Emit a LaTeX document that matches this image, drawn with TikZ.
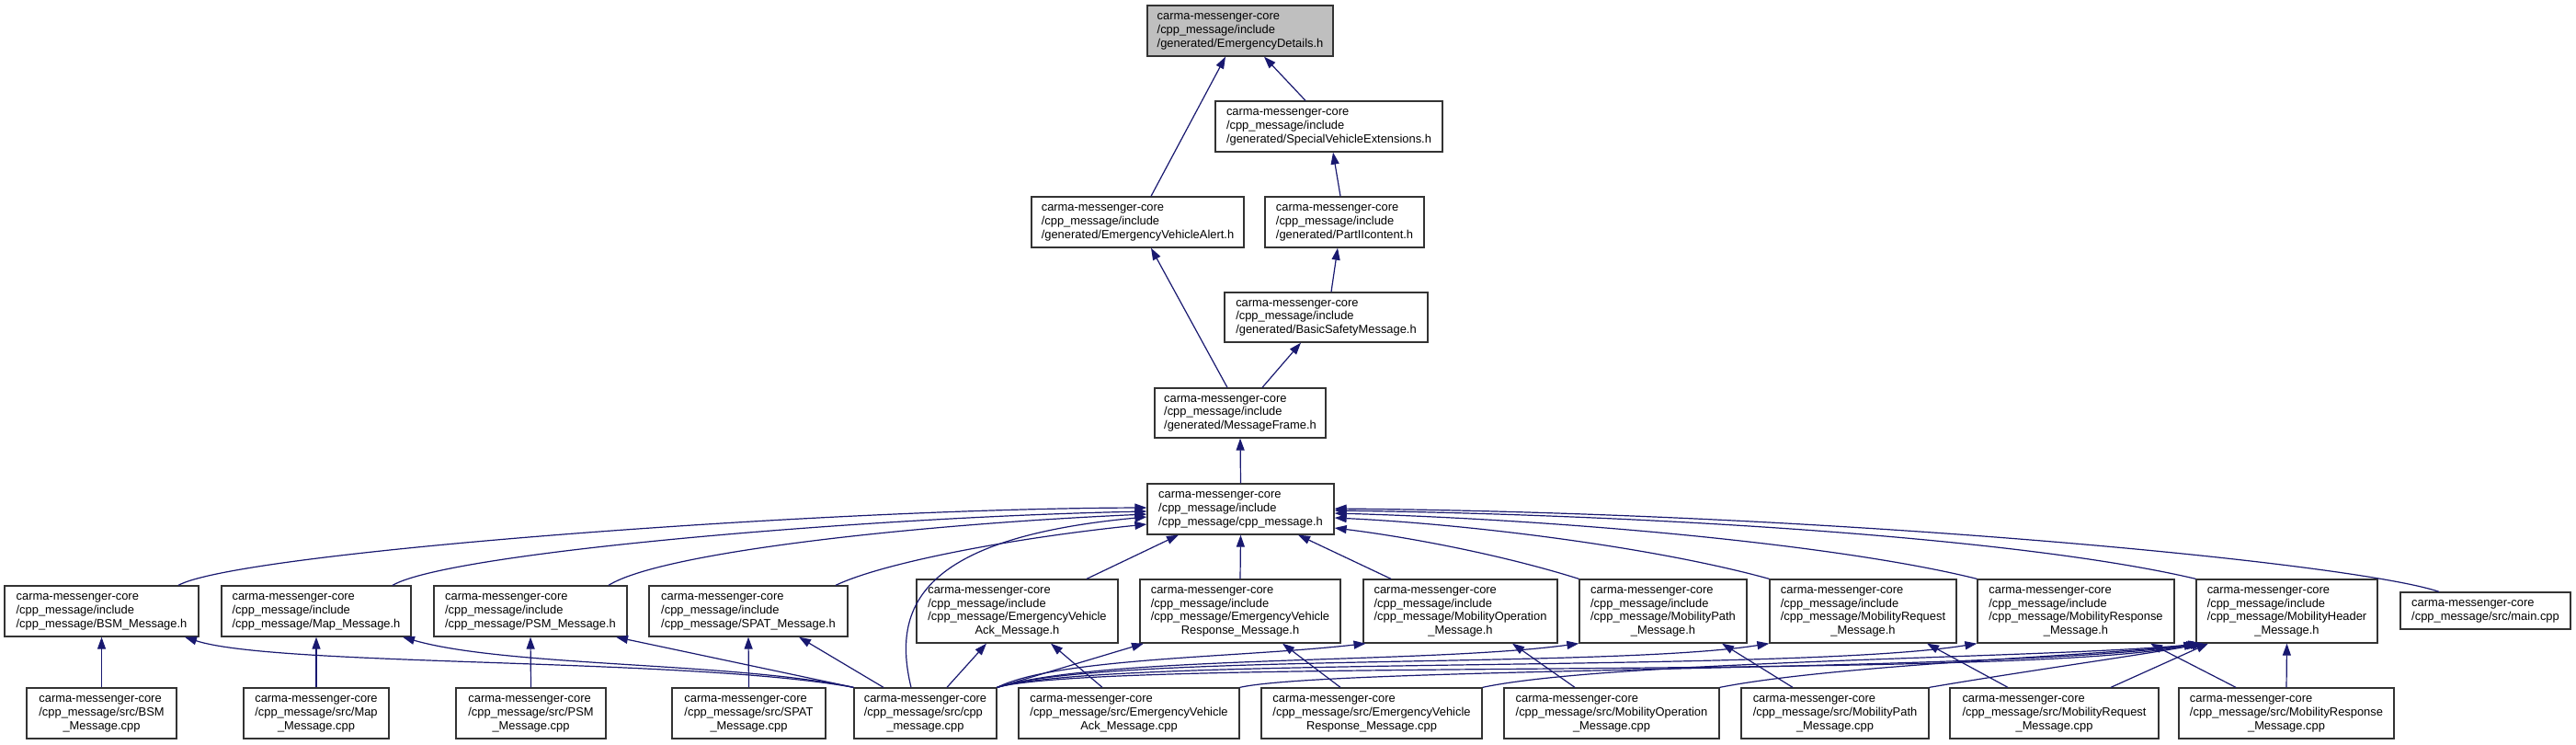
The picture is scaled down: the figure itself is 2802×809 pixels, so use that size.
\documentclass[tikz,border=0pt]{standalone}
\usepackage{fontspec}
\setmainfont{Liberation Sans}
\usetikzlibrary{arrows.meta}
\definecolor{edgeblue}{RGB}{25,25,112}
\definecolor{rootgray}{gray}{0.75}
\newcommand{\lb}[2]{\begin{tabular}{@{}l@{}}#1\\\multicolumn{1}{@{}c@{}}{#2}\end{tabular}}
\newcommand{\nodefnt}{\fontsize{12.9pt}{14.6pt}\selectfont}
\tikzset{
  box/.style={draw=black!80, line width=1.3pt, fill=white, inner sep=0pt, rectangle, font=\nodefnt},
  edge/.style={draw=edgeblue, line width=1.2pt, -{Triangle[length=13pt,width=9pt]}},
}
\begin{document}
\begin{tikzpicture}[x=1pt,y=-1pt]
\path[use as bounding box, fill=white] (0,0) rectangle (2802,809);
% top chain
\node[box, fill=rootgray, minimum width=202pt, minimum height=55pt] (ed) at (1349,33.5) {\lb{carma-messenger-core\\/cpp\_message/include}{/generated/EmergencyDetails.h}};
\node[box, minimum width=247pt, minimum height=55pt] (sve) at (1445.5,137.5) {\lb{carma-messenger-core\\/cpp\_message/include}{/generated/SpecialVehicleExtensions.h}};
\node[box, minimum width=231pt, minimum height=55pt] (eva) at (1237.5,241.5) {\lb{carma-messenger-core\\/cpp\_message/include}{/generated/EmergencyVehicleAlert.h}};
\node[box, minimum width=173pt, minimum height=55pt] (p2) at (1462.5,241.5) {\lb{carma-messenger-core\\/cpp\_message/include}{/generated/PartIIcontent.h}};
\node[box, minimum width=221pt, minimum height=54pt] (bsm) at (1442.5,345) {\lb{carma-messenger-core\\/cpp\_message/include}{/generated/BasicSafetyMessage.h}};
\node[box, minimum width=186pt, minimum height=54pt] (mf) at (1349,449) {\lb{carma-messenger-core\\/cpp\_message/include}{/generated/MessageFrame.h}};
\node[box, minimum width=203pt, minimum height=55pt] (cpph) at (1349.5,553.5) {\lb{carma-messenger-core\\/cpp\_message/include}{/cpp\_message/cpp\_message.h}};
% row 3
\node[box, minimum width=211pt, minimum height=55pt] (bsmh) at (110.5,664.5) {\lb{carma-messenger-core\\/cpp\_message/include}{/cpp\_message/BSM\_Message.h}};
\node[box, minimum width=206pt, minimum height=55pt] (maph) at (344,664.5) {\lb{carma-messenger-core\\/cpp\_message/include}{/cpp\_message/Map\_Message.h}};
\node[box, minimum width=210pt, minimum height=55pt] (psmh) at (577,664.5) {\lb{carma-messenger-core\\/cpp\_message/include}{/cpp\_message/PSM\_Message.h}};
\node[box, minimum width=216pt, minimum height=55pt] (spath) at (814,664.5) {\lb{carma-messenger-core\\/cpp\_message/include}{/cpp\_message/SPAT\_Message.h}};
\node[box, minimum width=219pt, minimum height=69pt] (evackh) at (1106.5,664.5) {\lb{carma-messenger-core\\/cpp\_message/include\\/cpp\_message/EmergencyVehicle}{Ack\_Message.h}};
\node[box, minimum width=218pt, minimum height=69pt] (evresph) at (1349,664.5) {\lb{carma-messenger-core\\/cpp\_message/include\\/cpp\_message/EmergencyVehicle}{Response\_Message.h}};
\node[box, minimum width=211pt, minimum height=69pt] (moph) at (1588.5,664.5) {\lb{carma-messenger-core\\/cpp\_message/include\\/cpp\_message/MobilityOperation}{\_Message.h}};
\node[box, minimum width=182pt, minimum height=69pt] (mpathh) at (1809,664.5) {\lb{carma-messenger-core\\/cpp\_message/include\\/cpp\_message/MobilityPath}{\_Message.h}};
\node[box, minimum width=203pt, minimum height=69pt] (mreqh) at (2026.5,664.5) {\lb{carma-messenger-core\\/cpp\_message/include\\/cpp\_message/MobilityRequest}{\_Message.h}};
\node[box, minimum width=214pt, minimum height=69pt] (mresph) at (2258,664.5) {\lb{carma-messenger-core\\/cpp\_message/include\\/cpp\_message/MobilityResponse}{\_Message.h}};
\node[box, minimum width=197pt, minimum height=69pt] (mheadh) at (2487.5,664.5) {\lb{carma-messenger-core\\/cpp\_message/include\\/cpp\_message/MobilityHeader}{\_Message.h}};
\node[box, minimum width=185pt, minimum height=40pt] (maincpp) at (2703.5,664) {\lb{carma-messenger-core}{/cpp\_message/src/main.cpp}};
% row 4
\node[box, minimum width=163pt, minimum height=55pt] (bsmcpp) at (110.5,775.5) {\lb{carma-messenger-core\\/cpp\_message/src/BSM}{\_Message.cpp}};
\node[box, minimum width=158pt, minimum height=55pt] (mapcpp) at (344,775.5) {\lb{carma-messenger-core\\/cpp\_message/src/Map}{\_Message.cpp}};
\node[box, minimum width=163pt, minimum height=55pt] (psmcpp) at (577.5,775.5) {\lb{carma-messenger-core\\/cpp\_message/src/PSM}{\_Message.cpp}};
\node[box, minimum width=167pt, minimum height=55pt] (spatcpp) at (814.5,775.5) {\lb{carma-messenger-core\\/cpp\_message/src/SPAT}{\_Message.cpp}};
\node[box, minimum width=155pt, minimum height=55pt] (cppcpp) at (1006.5,775.5) {\lb{carma-messenger-core\\/cpp\_message/src/cpp}{\_message.cpp}};
\node[box, minimum width=240pt, minimum height=55pt] (evackcpp) at (1228,775.5) {\lb{carma-messenger-core\\/cpp\_message/src/EmergencyVehicle}{Ack\_Message.cpp}};
\node[box, minimum width=240pt, minimum height=55pt] (evrespcpp) at (1492,775.5) {\lb{carma-messenger-core\\/cpp\_message/src/EmergencyVehicle}{Response\_Message.cpp}};
\node[box, minimum width=234pt, minimum height=55pt] (mopcpp) at (1753,775.5) {\lb{carma-messenger-core\\/cpp\_message/src/MobilityOperation}{\_Message.cpp}};
\node[box, minimum width=204pt, minimum height=55pt] (mpathcpp) at (1996,775.5) {\lb{carma-messenger-core\\/cpp\_message/src/MobilityPath}{\_Message.cpp}};
\node[box, minimum width=227pt, minimum height=55pt] (mreqcpp) at (2234.5,775.5) {\lb{carma-messenger-core\\/cpp\_message/src/MobilityRequest}{\_Message.cpp}};
\node[box, minimum width=234pt, minimum height=55pt] (mrespcpp) at (2487,775.5) {\lb{carma-messenger-core\\/cpp\_message/src/MobilityResponse}{\_Message.cpp}};
% top edges
\draw[edge] ([xshift=14.5pt]eva.north) -- ([xshift=-16pt]ed.south);
\draw[edge] ([xshift=-25.5pt]sve.north) -- ([xshift=26pt]ed.south);
\draw[edge] ([xshift=-4.5pt]p2.north) -- ([xshift=4.5pt]sve.south);
\draw[edge] ([xshift=5.5pt]bsm.north) -- ([xshift=-7.5pt]p2.south);
\draw[edge] ([xshift=-14pt]mf.north) -- ([xshift=14.5pt]eva.south);
\draw[edge] ([xshift=24pt]mf.north) -- ([xshift=-27.5pt]bsm.south);
\draw[edge] (cpph.north) -- (mf.south);
% row 3 to cpp_message.h
\draw[edge] ([xshift=83.5pt]bsmh.north) .. controls (260,600) and (900,553) .. ([yshift=1.5pt]cpph.west);
\draw[edge] ([xshift=83pt]maph.north) .. controls (490,600) and (950,562) .. ([yshift=-2.5pt]cpph.west);
\draw[edge] ([xshift=85pt]psmh.north) .. controls (720,600) and (1000,570) .. ([yshift=-5.5pt]cpph.west);
\draw[edge] ([xshift=95pt]spath.north) .. controls (960,612) and (1100,585) .. ([yshift=-16.5pt]cpph.west);
\draw[edge] ([xshift=-15.5pt]cppcpp.north) .. controls (970,660) and (1000,585) .. ([yshift=-8.5pt]cpph.west);
\draw[edge] ([xshift=75.5pt]evackh.north) -- ([xshift=-67.5pt]cpph.south);
\draw[edge] (evresph.north) -- (cpph.south);
\draw[edge] ([xshift=-75.5pt]moph.north) -- ([xshift=62.5pt]cpph.south);
\draw[edge] (mpathh.north west) .. controls (1640,605) and (1540,585) .. ([yshift=-20.5pt]cpph.east);
\draw[edge] (mreqh.north west) .. controls (1800,595) and (1600,570) .. ([yshift=-9.5pt]cpph.east);
\draw[edge] (mresph.north west) .. controls (2000,592) and (1700,565) .. ([yshift=-4.5pt]cpph.east);
\draw[edge] (mheadh.north west) .. controls (2200,585) and (1800,560) .. ([yshift=-1.5pt]cpph.east);
\draw[edge] ([xshift=-50.5pt]maincpp.north) .. controls (2560,612) and (2000,558) .. ([yshift=0.5pt]cpph.east);
% row 4 verticals
\draw[edge] (bsmcpp.north) -- (bsmh.south);
\draw[edge] (mapcpp.north) -- (maph.south);
\draw[edge] (psmcpp.north) -- (psmh.south);
\draw[edge] (spatcpp.north) -- (spath.south);
% cpp_message.cpp
\draw[edge] (cppcpp.north west) .. controls (750,715) and (300,725) .. ([xshift=90.5pt]bsmh.south);
\draw[edge] (cppcpp.north west) .. controls (800,720) and (550,725) .. ([xshift=94pt]maph.south);
\draw[edge] (cppcpp.north west) -- ([xshift=93pt]psmh.south);
\draw[edge] ([xshift=-45.5pt]cppcpp.north) -- ([xshift=55pt]spath.south);
\draw[edge] ([xshift=23.5pt]cppcpp.north) -- ([xshift=-33.5pt]evackh.south);
\draw[edge] (cppcpp.north east) -- ([xshift=-105pt]evresph.south);
\draw[edge] (cppcpp.north east) .. controls (1150,715) and (1350,715) .. ([xshift=-103pt]moph.south);
\draw[edge] (cppcpp.north east) .. controls (1200,712) and (1550,722) .. (mpathh.south west);
\draw[edge] (cppcpp.north east) .. controls (1200,710) and (1750,727) .. (mreqh.south west);
\draw[edge] (cppcpp.north east) .. controls (1200,713) and (1950,732) .. (mresph.south west);
\draw[edge] (cppcpp.north east) .. controls (1200,715) and (2200,740) .. (mheadh.south west);
% other cpp files
\draw[edge] ([xshift=-29pt]evackcpp.north) -- ([xshift=36.5pt]evackh.south);
\draw[edge] (evackcpp.north east) .. controls (1450,725) and (2200,730) .. ([xshift=3pt]mheadh.south west);
\draw[edge] ([xshift=-34pt]evrespcpp.north) -- ([xshift=46pt]evresph.south);
\draw[edge] (evrespcpp.north east) .. controls (1750,718) and (2250,715) .. ([xshift=5pt]mheadh.south west);
\draw[edge] ([xshift=-40pt]mopcpp.north) -- ([xshift=56.5pt]moph.south);
\draw[edge] (mopcpp.north east) .. controls (2000,722) and (2300,712) .. ([xshift=7pt]mheadh.south west);
\draw[edge] ([xshift=-46pt]mpathcpp.north) -- ([xshift=64pt]mpathh.south);
\draw[edge] (mpathcpp.north east) .. controls (2200,730) and (2330,712) .. ([xshift=9pt]mheadh.south west);
\draw[edge] ([xshift=-50.5pt]mreqcpp.north) -- ([xshift=69.5pt]mreqh.south);
\draw[edge] ([xshift=61.5pt]mreqcpp.north) -- ([xshift=-85.5pt]mheadh.south);
\draw[edge] ([xshift=-55pt]mrespcpp.north) -- ([xshift=81pt]mresph.south);
\draw[edge] (mrespcpp.north) -- (mheadh.south);
\end{tikzpicture}
\end{document}
